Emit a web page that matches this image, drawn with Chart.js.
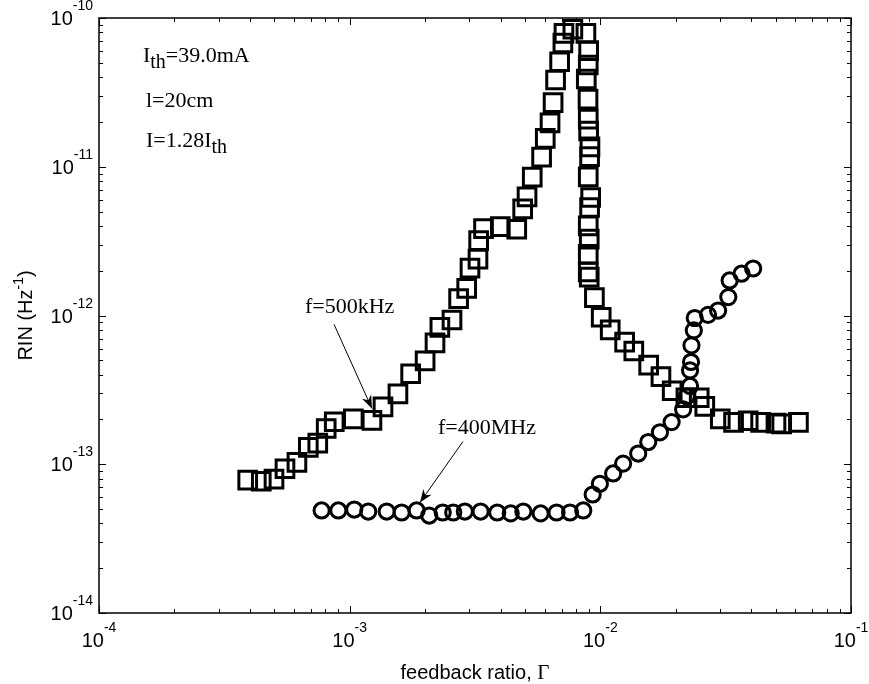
<!DOCTYPE html>
<html>
<head>
<meta charset="utf-8">
<script src="https://cdn.jsdelivr.net/npm/chart.js@4.4.1/dist/chart.umd.min.js"></script>
<style>
html,body{margin:0;padding:0;background:#fff;}
#c{display:block;}
</style>
</head>
<body>
<canvas id="c" width="869" height="684"></canvas>
<script>
// ---------- data ----------
// f = 500 kHz series (squares)
const squareX = [3.92e-4,4.44e-4,4.99e-4,5.52e-4,6.16e-4,6.84e-4,7.46e-4,8.06e-4,8.68e-4,1.034e-3,
  1.227e-3,1.358e-3,1.558e-3,1.751e-3,2.0e-3,2.19e-3,2.29e-3,2.56e-3,2.72e-3,2.93e-3,
  3.02e-3,3.25e-3,3.27e-3,3.42e-3,3.99e-3,4.64e-3,4.90e-3,5.10e-3,5.35e-3,5.83e-3,
  6.03e-3,6.30e-3,6.48e-3,6.63e-3,6.88e-3,7.09e-3,7.16e-3,7.77e-3,8.76e-3,8.98e-3,
  8.95e-3,8.79e-3,8.93e-3,8.95e-3,8.98e-3,9.09e-3,9.06e-3,8.95e-3,9.15e-3,9.06e-3,
  8.95e-3,9.03e-3,8.95e-3,8.95e-3,9.03e-3,9.47e-3,1.008e-2,1.095e-2,1.25e-2,1.36e-2,
  1.559e-2,1.745e-2,1.935e-2,2.195e-2,2.48e-2,2.61e-2,3.01e-2,3.40e-2,3.89e-2,4.36e-2,
  5.02e-2,5.29e-2,6.17e-2];
const squareY = [7.82e-14,7.69e-14,7.94e-14,9.33e-14,1.03e-13,1.30e-13,1.387e-13,1.74e-13,1.93e-13,2.02e-13,
  1.97e-13,2.43e-13,2.97e-13,4.06e-13,4.96e-13,6.55e-13,8.33e-13,9.33e-13,1.30e-12,1.52e-12,
  2.08e-12,2.39e-12,3.19e-12,3.84e-12,3.96e-12,3.80e-12,5.21e-12,6.27e-12,8.51e-12,1.16e-11,
  1.55e-11,1.97e-11,2.70e-11,3.83e-11,5.08e-11,6.79e-11,7.89e-11,8.40e-11,7.89e-11,6.03e-11,
  4.83e-11,3.89e-11,2.85e-11,2.09e-11,1.74e-11,1.36e-11,1.17e-11,8.55e-12,6.21e-12,5.32e-12,
  4.00e-12,3.26e-12,2.58e-12,1.96e-12,1.81e-12,1.32e-12,9.73e-13,8.01e-13,6.63e-13,5.77e-13,
  4.64e-13,3.88e-13,3.12e-13,2.80e-13,2.80e-13,2.45e-13,2.02e-13,1.91e-13,1.96e-13,1.91e-13,
  1.89e-13,1.87e-13,1.91e-13];

// f = 400 MHz series (circles)
const circleX = [7.73e-4,9.01e-4,1.043e-3,1.186e-3,1.405e-3,1.612e-3,1.85e-3,2.077e-3,2.35e-3,2.59e-3,
  2.88e-3,3.33e-3,3.88e-3,4.39e-3,4.93e-3,5.78e-3,6.69e-3,7.57e-3,8.55e-3,9.32e-3,
  9.96e-3,1.125e-2,1.233e-2,1.416e-2,1.553e-2,1.729e-2,1.925e-2,2.14e-2,2.21e-2,2.28e-2,
  2.28e-2,2.30e-2,2.31e-2,2.36e-2,2.38e-2,2.69e-2,2.95e-2,3.24e-2,3.28e-2,3.66e-2,4.07e-2];
const circleY = [4.89e-14,4.89e-14,4.96e-14,4.81e-14,4.81e-14,4.74e-14,4.89e-14,4.52e-14,4.74e-14,4.74e-14,
  4.81e-14,4.81e-14,4.74e-14,4.67e-14,4.81e-14,4.67e-14,4.74e-14,4.74e-14,4.89e-14,6.26e-14,
  7.39e-14,8.67e-14,1.01e-13,1.18e-13,1.41e-13,1.64e-13,1.92e-13,2.34e-13,2.86e-13,3.36e-13,
  4.28e-13,4.87e-13,6.30e-13,7.95e-13,9.62e-13,1.01e-12,1.08e-12,1.33e-12,1.72e-12,1.91e-12,2.07e-12];

// axis ranges and tick labels (decade exponents)
const xDecades = [-4, -3, -2, -1];
const yDecades = [-14, -13, -12, -11, -10];
const xTitle = 'feedback ratio, ';
const xTitleGreek = '\u0393';
const yTitle = ['RIN (Hz', '-1', ')'];

// annotation texts (anchored in data coordinates)
const notes = [
  {x: 1.497e-4, y: 5.06e-11, parts: [{t: 'I'}, {t: 'th', sub: true}, {t: '=39.0mA'}]},
  {x: 1.54e-4, y: 2.52e-11, parts: [{t: 'l=20cm'}]},
  {x: 1.54e-4, y: 1.355e-11, parts: [{t: 'I=1.28I'}, {t: 'th', sub: true}]},
  {x: 6.63e-4, y: 1.035e-12, parts: [{t: 'f=500kHz'}]},
  {x: 2.25e-3, y: 1.587e-13, parts: [{t: 'f=400MHz'}]}
];
const arrows = [
  {x0: 8.66e-4, y0: 8.73e-13, x1: 1.227e-3, y1: 2.37e-13},
  {x0: 2.83e-3, y0: 1.42e-13, x1: 1.908e-3, y1: 5.53e-14}
];

// ---------- helpers ----------
const SANS = '"Liberation Sans", Arial, Helvetica, sans-serif';
const SERIF = '"Liberation Serif", "Times New Roman", Times, serif';
function decadeTicks(decs) {
  const out = [];
  for (let i = 0; i < decs.length; i++) {
    const base = Math.pow(10, decs[i]);
    if (i === decs.length - 1) { out.push(base); break; }
    for (let m = 1; m <= 9; m++) out.push(parseFloat((m * base).toPrecision(6)));
  }
  return out;
}
const xTickValues = decadeTicks(xDecades);
const yTickValues = decadeTicks(yDecades);
function isMajor(v) { const l = Math.log10(v); return Math.abs(l - Math.round(l)) < 1e-6; }

function partSize(p, size, subScale, supScale) {
  if (p.sub) return Math.round(size * subScale);
  if (p.sup) return Math.round(size * supScale);
  return size;
}
function richWidth(ctx, parts, size, fam, subScale, supScale) {
  let w = 0;
  for (const p of parts) {
    ctx.font = partSize(p, size, subScale, supScale) + 'px ' + fam;
    w += ctx.measureText(p.t).width;
  }
  return w;
}
function drawRich(ctx, x, y, parts, size, fam, subScale, supScale, subDy, supDy) {
  let cx = x;
  for (const p of parts) {
    ctx.font = partSize(p, size, subScale, supScale) + 'px ' + fam;
    const dy = p.sub ? subDy : (p.sup ? supDy : 0);
    ctx.fillText(p.t, cx, y + dy);
    cx += ctx.measureText(p.t).width;
  }
}

const matlabAxes = {
  id: 'matlabAxes',
  afterDatasetsDraw(chart) {
    const ctx = chart.ctx, a = chart.chartArea;
    const xs = chart.scales.x, ys = chart.scales.y;
    ctx.save();
    ctx.fillStyle = '#000';
    ctx.strokeStyle = '#000';

    // tick marks (inside, on all four sides)
    ctx.lineWidth = 1;
    ctx.beginPath();
    xs.ticks.forEach(t => {
      const p = Math.round(xs.getPixelForValue(t.value)) + 0.5;
      const L = isMajor(t.value) ? 7 : 4;
      ctx.moveTo(p, a.bottom); ctx.lineTo(p, a.bottom - L);
      ctx.moveTo(p, a.top); ctx.lineTo(p, a.top + L);
    });
    ys.ticks.forEach(t => {
      const p = Math.round(ys.getPixelForValue(t.value)) + 0.5;
      const L = isMajor(t.value) ? 7 : 4;
      ctx.moveTo(a.left, p); ctx.lineTo(a.left + L, p);
      ctx.moveTo(a.right, p); ctx.lineTo(a.right - L, p);
    });
    ctx.stroke();

    // box
    ctx.lineWidth = 1.5;
    ctx.strokeRect(a.left, a.top, a.right - a.left, a.bottom - a.top);

    // tick labels 10^n
    ctx.textBaseline = 'alphabetic';
    ctx.textAlign = 'left';
    const big = 20, small = 14;
    ys.ticks.forEach(t => {
      if (!isMajor(t.value)) return;
      const e = String(Math.round(Math.log10(t.value)));
      const p = ys.getPixelForValue(t.value);
      ctx.font = big + 'px ' + SANS; const w1 = ctx.measureText('10').width;
      ctx.font = small + 'px ' + SANS; const w2 = ctx.measureText(e).width;
      const x0 = a.left - 6 - w1 - w2;
      ctx.font = big + 'px ' + SANS; ctx.fillText('10', x0, p + 7);
      ctx.font = small + 'px ' + SANS; ctx.fillText(e, x0 + w1, p - 8);
    });
    xs.ticks.forEach(t => {
      if (!isMajor(t.value)) return;
      const e = String(Math.round(Math.log10(t.value)));
      const p = xs.getPixelForValue(t.value);
      ctx.font = big + 'px ' + SANS; const w1 = ctx.measureText('10').width;
      ctx.font = small + 'px ' + SANS; const w2 = ctx.measureText(e).width;
      const x0 = p - (w1 + w2) / 2;
      ctx.font = big + 'px ' + SANS; ctx.fillText('10', x0, a.bottom + 34);
      ctx.font = small + 'px ' + SANS; ctx.fillText(e, x0 + w1, a.bottom + 19);
    });

    // axis titles
    ctx.font = '20px ' + SANS;
    const wt = ctx.measureText(xTitle).width;
    ctx.font = '21px ' + SERIF;
    const wg = ctx.measureText(xTitleGreek).width;
    const cx = (a.left + a.right) / 2;
    ctx.font = '20px ' + SANS;
    ctx.fillText(xTitle, cx - (wt + wg) / 2, a.bottom + 66);
    ctx.font = '21px ' + SERIF;
    ctx.fillText(xTitleGreek, cx - (wt + wg) / 2 + wt, a.bottom + 66);

    ctx.save();
    ctx.translate(a.left - 67, (a.top + a.bottom) / 2);
    ctx.rotate(-Math.PI / 2);
    const yParts = [{t: yTitle[0]}, {t: yTitle[1], sup: true}, {t: yTitle[2]}];
    const wy = richWidth(ctx, yParts, 20, SANS, 0.7, 0.7);
    drawRich(ctx, -wy / 2, 0, yParts, 20, SANS, 0.7, 0.7, 6, -9);
    ctx.restore();

    // annotations
    notes.forEach(n => {
      drawRich(ctx, xs.getPixelForValue(n.x), ys.getPixelForValue(n.y), n.parts, 22, SERIF, 0.92, 0.7, 6, -9);
    });
    arrows.forEach(ar => {
      const X0 = xs.getPixelForValue(ar.x0), Y0 = ys.getPixelForValue(ar.y0);
      const X1 = xs.getPixelForValue(ar.x1), Y1 = ys.getPixelForValue(ar.y1);
      ctx.lineWidth = 1;
      ctx.beginPath(); ctx.moveTo(X0, Y0); ctx.lineTo(X1, Y1); ctx.stroke();
      const ang = Math.atan2(Y1 - Y0, X1 - X0);
      const L = 13, W = 5, N = 9;
      const ux = Math.cos(ang), uy = Math.sin(ang);
      ctx.beginPath();
      ctx.moveTo(X1, Y1);
      ctx.lineTo(X1 - ux * L - uy * W, Y1 - uy * L + ux * W);
      ctx.lineTo(X1 - ux * N, Y1 - uy * N);
      ctx.lineTo(X1 - ux * L + uy * W, Y1 - uy * L - ux * W);
      ctx.closePath();
      ctx.fill();
    });
    ctx.restore();
  }
};

const ctx = document.getElementById('c').getContext('2d');
new Chart(ctx, {
  type: 'scatter',
  data: {
    datasets: [
      {
        label: 'f=500kHz',
        data: squareX.map((x, i) => ({x: x, y: squareY[i]})),
        pointStyle: 'rect', pointRadius: 12.5, pointBorderWidth: 3,
        borderColor: '#000', backgroundColor: 'rgba(0,0,0,0)', showLine: false, clip: false
      },
      {
        label: 'f=400MHz',
        data: circleX.map((x, i) => ({x: x, y: circleY[i]})),
        pointStyle: 'circle', pointRadius: 7.6, pointBorderWidth: 3,
        borderColor: '#000', backgroundColor: 'rgba(0,0,0,0)', showLine: false, clip: false
      }
    ]
  },
  options: {
    responsive: false,
    animation: false,
    devicePixelRatio: 1,
    layout: {padding: {left: 0, right: 18, top: 18, bottom: 0}},
    plugins: {legend: {display: false}, tooltip: {enabled: false}},
    scales: {
      x: {
        type: 'logarithmic', min: 1e-4, max: 1e-1,
        grid: {display: false}, border: {display: false},
        ticks: {display: false, autoSkip: false},
        title: {display: false},
        afterBuildTicks: s => { s.ticks = xTickValues.map(v => ({value: v})); },
        afterFit: s => { s.height = 71; }
      },
      y: {
        type: 'logarithmic', min: 1e-14, max: 1e-10,
        grid: {display: false}, border: {display: false},
        ticks: {display: false, autoSkip: false},
        title: {display: false},
        afterBuildTicks: s => { s.ticks = yTickValues.map(v => ({value: v})); },
        afterFit: s => { s.width = 99; }
      }
    }
  },
  plugins: [matlabAxes]
});
</script>
</body>
</html>
